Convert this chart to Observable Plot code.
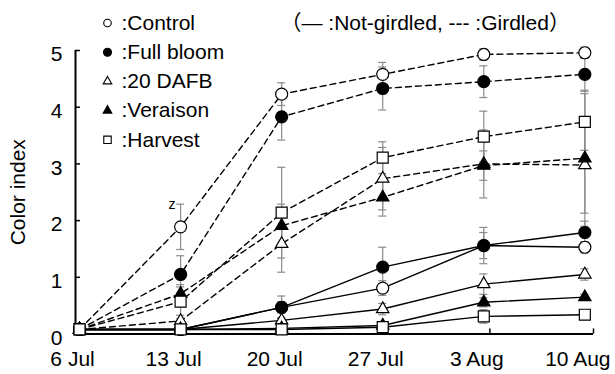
<!DOCTYPE html>
<html><head><meta charset="utf-8">
<script src="https://cdn.jsdelivr.net/npm/d3@7"></script>
<script src="https://cdn.jsdelivr.net/npm/@observablehq/plot@0.6"></script>
<style>
body{margin:0;background:#fff}
#chart{width:615px;height:374px}
</style>
</head><body><div id="chart"></div>
<script>
// ---- data ----
const dates = ["6 Jul", "13 Jul", "20 Jul", "27 Jul", "3 Aug", "10 Aug"];
const days = [0, 7, 14, 21, 28, 35];
const treatments = ["Control", "Full bloom", "20 DAFB", "Veraison", "Harvest"];
const yTicks = [0, 1, 2, 3, 4, 5];

const girdledControl   = [0.08, 1.89, 4.23, 4.58, 4.93, 4.96];
const girdledFullBloom = [0.08, 1.05, 3.83, 4.33, 4.45, 4.58];
const girdled20DAFB    = [0.08, 0.23, 1.59, 2.74, 3.00, 2.98];
const girdledVeraison  = [0.08, 0.71, 1.91, 2.41, 2.97, 3.10];
const girdledHarvest   = [0.08, 0.57, 2.14, 3.11, 3.48, 3.74];

const notGirdledControl   = [0.08, 0.08, 0.47, 0.81, 1.56, 1.53];
const notGirdledFullBloom = [0.08, 0.08, 0.47, 1.18, 1.56, 1.79];
const notGirdled20DAFB    = [0.08, 0.08, 0.24, 0.44, 0.88, 1.05];
const notGirdledVeraison  = [0.08, 0.08, 0.10, 0.15, 0.56, 0.65];
const notGirdledHarvest   = [0.08, 0.08, 0.08, 0.12, 0.31, 0.34];

const girdledControlErr   = [0, 0.40, 0.20, 0.21, 0.10, 0.10];
const girdledFullBloomErr = [0, 0.33, 0.41, 0.38, 0.28, 0.30];
const girdled20DAFBErr    = [0, 0.10, 0.50, 0.55, 0.60, 0.85];
const girdledVeraisonErr  = [0, 0.12, 0.38, 0.33, 0.26, 1.20];
const girdledHarvestErr   = [0, 0.30, 0.80, 0.28, 0.45, 0.50];

const notGirdledControlErr   = [0, 0, 0.10, 0.13, 0.23, 0.10];
const notGirdledFullBloomErr = [0, 0, 0.20, 0.35, 0.32, 0.20];
const notGirdled20DAFBErr    = [0, 0, 0.05, 0.10, 0.18, 0.10];
const notGirdledVeraisonErr  = [0, 0, 0, 0.05, 0.08, 0.05];
const notGirdledHarvestErr   = [0, 0, 0, 0.05, 0.12, 0.05];

// ---- build table ----
const seriesDefs = [
  ["Control", true, girdledControl, girdledControlErr],
  ["Full bloom", true, girdledFullBloom, girdledFullBloomErr],
  ["20 DAFB", true, girdled20DAFB, girdled20DAFBErr],
  ["Veraison", true, girdledVeraison, girdledVeraisonErr],
  ["Harvest", true, girdledHarvest, girdledHarvestErr],
  ["Control", false, notGirdledControl, notGirdledControlErr],
  ["Full bloom", false, notGirdledFullBloom, notGirdledFullBloomErr],
  ["20 DAFB", false, notGirdled20DAFB, notGirdled20DAFBErr],
  ["Veraison", false, notGirdledVeraison, notGirdledVeraisonErr],
  ["Harvest", false, notGirdledHarvest, notGirdledHarvestErr]
];
const rows = [];
for (const [t, g, vals, errs] of seriesDefs) {
  vals.forEach((v, i) => rows.push({treatment: t, girdled: g, key: t + (g ? "-g" : "-n"), day: days[i], date: dates[i], value: v, err: errs[i]}));
}
const errRows = rows.filter(d => d.err > 0);

// ---- styles ----
const styles = {
  "Control":    {symbol: "circle",   fill: "white", r: 6,   lr: 3.8},
  "Full bloom": {symbol: "circle",   fill: "black", r: 6,   lr: 4.0},
  "20 DAFB":    {symbol: "triangle", fill: "white", r: 4.6, lr: 3.2},
  "Veraison":   {symbol: "triangle", fill: "black", r: 4.6, lr: 3.2},
  "Harvest":    {symbol: "square",   fill: "white", r: 6.2, lr: 4.2}
};

const FS = 21;
const xMin = -0.28, xMax = 35.6;
const xTicks = d3.range(6).map(i => xMin + i * (xMax - xMin) / 5);
const capHalf = 0.28;
const errColor = "#8c8c8c";

const marks = [];
// error bars
marks.push(Plot.ruleX(errRows, {x: "day", y1: d => d.value - d.err, y2: d => d.value + d.err, stroke: errColor, strokeWidth: 1.2}));
marks.push(Plot.ruleY(errRows, {y: d => d.value + d.err, x1: d => d.day - capHalf, x2: d => d.day + capHalf, stroke: errColor, strokeWidth: 1.2}));
marks.push(Plot.ruleY(errRows, {y: d => d.value - d.err, x1: d => d.day - capHalf, x2: d => d.day + capHalf, stroke: errColor, strokeWidth: 1.2}));
// lines
marks.push(Plot.line(rows.filter(d => !d.girdled), {x: "day", y: "value", z: "key", stroke: "black", strokeWidth: 1.4}));
marks.push(Plot.line(rows.filter(d => d.girdled), {x: "day", y: "value", z: "key", stroke: "black", strokeWidth: 1.4, strokeDasharray: "6,4"}));
// axis lines and ticks
marks.push(Plot.ruleY([0], {stroke: "black", strokeWidth: 2}));
marks.push(Plot.ruleX([xMin], {y1: 0, y2: 5, stroke: "black", strokeWidth: 2}));
marks.push(Plot.ruleY(yTicks, {x1: xMin, x2: xMin + 0.35, stroke: "black", strokeWidth: 1.5}));
marks.push(Plot.ruleX(xTicks, {y1: 0, y2: 0.09, stroke: "black", strokeWidth: 1.5}));
// markers
for (const t of treatments) {
  const s = styles[t];
  marks.push(Plot.dot(rows.filter(d => d.treatment === t), {x: "day", y: "value", symbol: s.symbol, fill: s.fill, stroke: "black", strokeWidth: 1.2, r: s.r}));
}
// "z" annotation
marks.push(Plot.text(rows.filter(d => d.girdled && d.treatment === "Control" && d.day === 7), {x: "day", y: d => d.value + d.err, text: () => "z", dx: -8.5, fontSize: 14}));
// axis labels
marks.push(Plot.axisY({ticks: yTicks, tickSize: 0, tickPadding: 13, dy: 4, label: null, tickFormat: d => String(d), fontSize: FS}));
marks.push(Plot.axisX({ticks: days, tickSize: 0, tickPadding: 17, dx: -7, tickFormat: d => dates[days.indexOf(d)], label: null, fontSize: FS}));
marks.push(Plot.text(["Color index"], {frameAnchor: "left", rotate: -90, dx: -57, textAnchor: "middle", lineAnchor: "middle", text: d => d, fontSize: FS}));
// legend
treatments.forEach((t, i) => {
  const s = styles[t];
  marks.push(Plot.dot([t], {frameAnchor: "top-left", dx: 32, dy: -27.5 + i * 29.2, symbol: s.symbol, fill: s.fill, stroke: "black", strokeWidth: 1.1, r: s.lr}));
  marks.push(Plot.text([t], {frameAnchor: "top-left", dx: 46, dy: -27.5 + i * 29.2, textAnchor: "start", lineAnchor: "middle", text: d => ":" + d, fontSize: FS}));
});
marks.push(Plot.text(["（— :Not-girdled, --- :Girdled）"], {frameAnchor: "top-left", dx: 205, dy: -27.5, textAnchor: "start", lineAnchor: "middle", text: d => d, fontSize: FS}));

const chart = Plot.plot({
  width: 615,
  height: 374,
  marginLeft: 75,
  marginRight: 22,
  marginTop: 50,
  marginBottom: 40.5,
  x: {domain: [xMin, xMax], axis: null},
  y: {domain: [0, 5], axis: null},
  style: {fontFamily: "'Liberation Sans', Arial, 'Noto Sans CJK JP', sans-serif", fontSize: "21px", color: "black", background: "white"},
  marks
});
document.getElementById("chart").appendChild(chart);
</script>
</body></html>
